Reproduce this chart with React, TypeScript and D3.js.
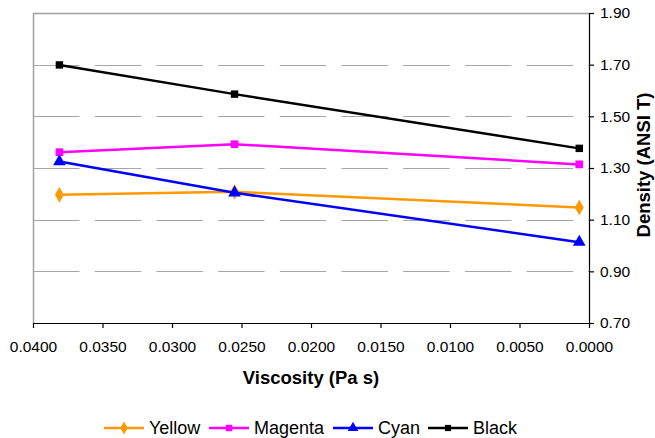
import React, { useEffect, useRef } from "react";
import {
  axisBottom,
  axisRight,
  format,
  line,
  range,
  scaleLinear,
  select,
  symbol,
  symbolDiamond,
  symbolSquare,
  symbolTriangle,
} from "d3";

const viscosity = [0.0381, 0.0255, 0.0007];
const yellow = [1.196, 1.208, 1.147];
const magenta = [1.361, 1.392, 1.314];
const cyan = [1.325, 1.204, 1.013];
const black = [1.699, 1.586, 1.376];

const xTicks = range(0, 9).map((i) => i * 0.005);
const yTicks = [0.7, 0.9, 1.1, 1.3, 1.5, 1.7, 1.9];

const series = [
  { name: "Yellow", values: yellow, color: "#FF9900", shape: symbolDiamond, size: 70 },
  { name: "Magenta", values: magenta, color: "#FF00FF", shape: symbolSquare, size: 60 },
  { name: "Cyan", values: cyan, color: "#0000FF", shape: symbolTriangle, size: 70 },
  { name: "Black", values: black, color: "#000000", shape: symbolSquare, size: 55 },
];

const width = 655;
const height = 438;
const marginLeft = 33;
const marginRight = 66;
const marginTop = 13;
const marginBottom = 115;
const font = "'Liberation Sans', Arial, sans-serif";

const App = () => {
  const svgRef = useRef(null);

  useEffect(() => {
    const svg = select(svgRef.current);
    svg.selectAll("*").remove();

    const x = scaleLinear()
      .domain([0.04, 0])
      .range([marginLeft, width - marginRight]);
    const y = scaleLinear()
      .domain([0.7, 1.9])
      .range([height - marginBottom, marginTop]);

    // dashed gridlines
    svg
      .append("g")
      .selectAll("line")
      .data(yTicks.slice(1, -1))
      .join("line")
      .attr("x1", marginLeft)
      .attr("x2", width - marginRight)
      .attr("y1", (d) => Math.round(y(d)) + 0.5)
      .attr("y2", (d) => Math.round(y(d)) + 0.5)
      .attr("stroke", "#a6a6a6")
      .attr("stroke-width", 1)
      .attr("stroke-dasharray", "46.5,15.2");

    // gray frame on top and left
    svg
      .append("path")
      .attr(
        "d",
        `M${marginLeft + 0.5},${height - marginBottom}V${marginTop + 0.5}H${width - marginRight}`
      )
      .attr("fill", "none")
      .attr("stroke", "#a0a0a0")
      .attr("stroke-width", 1.5);

    svg
      .append("g")
      .attr("transform", `translate(0,${height - marginBottom})`)
      .call(axisBottom(x).tickValues(xTicks).tickFormat(format(".4f")).tickSize(5).tickSizeOuter(0).tickPadding(13))
      .call((g) => g.selectAll("line, path").attr("stroke", "#000").attr("stroke-width", 1.2))
      .call((g) => g.selectAll("text").attr("font-family", font).attr("font-size", 15.5).attr("fill", "#000"));

    svg
      .append("g")
      .attr("transform", `translate(${width - marginRight},0)`)
      .call(axisRight(y).tickValues(yTicks).tickFormat(format(".2f")).tickSize(5).tickSizeOuter(0).tickPadding(6))
      .call((g) => g.selectAll("line, path").attr("stroke", "#000").attr("stroke-width", 1.2))
      .call((g) => g.selectAll("text").attr("font-family", font).attr("font-size", 15.5).attr("fill", "#000"));

    svg
      .append("text")
      .attr("x", (marginLeft + width - marginRight) / 2)
      .attr("y", 384)
      .attr("text-anchor", "middle")
      .attr("font-family", font)
      .attr("font-size", 18.5)
      .attr("font-weight", "bold")
      .text("Viscosity (Pa s)");

    svg
      .append("text")
      .attr("transform", `translate(650,${(marginTop + height - marginBottom) / 2 - 3}) rotate(-90)`)
      .attr("text-anchor", "middle")
      .attr("font-family", font)
      .attr("font-size", 18.5)
      .attr("font-weight", "bold")
      .text("Density (ANSI T)");

    const lineGen = line()
      .x((d) => x(d[0]))
      .y((d) => y(d[1]));

    series.forEach((s) => {
      const pts = viscosity.map((v, i) => [v, s.values[i]]);
      const g = svg.append("g");
      g.append("path")
        .attr("d", lineGen(pts))
        .attr("fill", "none")
        .attr("stroke", s.color)
        .attr("stroke-width", 2.5);
      g.selectAll("path.m")
        .data(pts)
        .join("path")
        .attr("class", "m")
        .attr("transform", (d) => `translate(${x(d[0])},${y(d[1])})`)
        .attr("d", symbol(s.shape, s.size)())
        .attr("fill", s.color);
    });

    // legend
    const legendX = [104, 209, 333, 428];
    const legendY = 428;
    const legend = svg.append("g");
    series.forEach((s, i) => {
      const lx = legendX[i];
      legend
        .append("line")
        .attr("x1", lx)
        .attr("x2", lx + 40)
        .attr("y1", legendY)
        .attr("y2", legendY)
        .attr("stroke", s.color)
        .attr("stroke-width", 2.5);
      legend
        .append("path")
        .attr("transform", `translate(${lx + 20},${legendY})`)
        .attr("d", symbol(s.shape, s.size * 0.7)())
        .attr("fill", s.color);
      legend
        .append("text")
        .attr("x", lx + 45)
        .attr("y", legendY)
        .attr("dy", "0.35em")
        .attr("font-family", font)
        .attr("font-size", 18)
        .text(s.name);
    });
  }, []);

  return (
    <svg
      ref={svgRef}
      width={width}
      height={height}
      style={{ position: "absolute", left: 0, top: 0, background: "#fff" }}
    />
  );
};

export default App;
